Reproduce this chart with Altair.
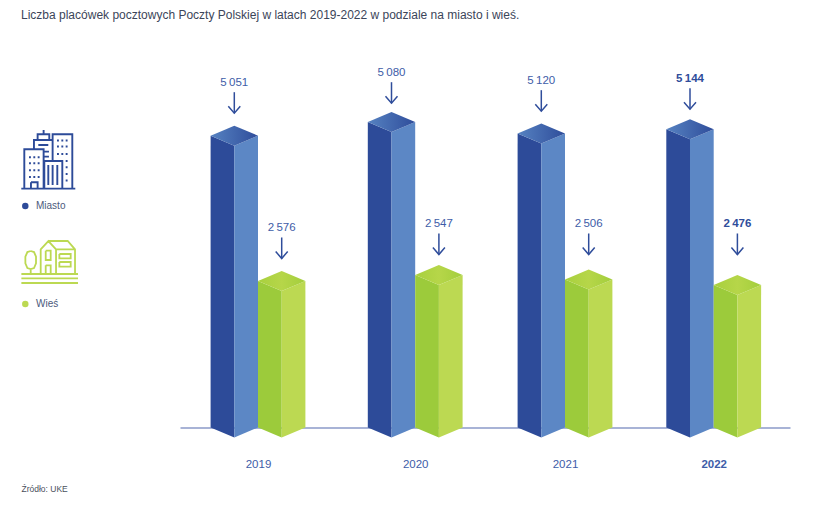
import altair as alt
import pandas as pd

# --- values ---
lata = [2019, 2020, 2021, 2022]
miasto = [5051, 5080, 5120, 5144]
wies = [2576, 2547, 2506, 2476]
# drawn bar heights (left edge) and label heights, in value units; the infographic's
# bars are not strictly proportional to their printed values
miasto_wys = [5046, 5283, 5084, 5157]
wies_wys = [2533, 2637, 2559, 2464]
miasto_etyk = [5962, 6135, 5997, 6031]
wies_etyk = [3450, 3519, 3519, 3519]

# --- layout constants ---
PLOT_W, PLOT_H, Y_MAX = 610, 347, 6000
U = Y_MAX / PLOT_H            # value units per pixel
SRODKI = [78, 235.2, 385, 533.7]
HW = 23.7
DV = 10 * U

TYTUL = "Liczba placówek pocztowych Poczty Polskiej w latach 2019-2022 w podziale na miasto i wieś."
ZRODLO = "Źródło: UKE"
GRANAT, NIEBIESKI = "#2d4b99", "#5c87c5"
ZIELONY, LIMONKA = "#9ccb3b", "#bcd952"
STRZALKA = "#2f4d9b"
TEKST = "#3e5da8"
FONT = "Liberation Sans"

xs = alt.Scale(domain=[0, PLOT_W], nice=False, zero=False)
ys = alt.Scale(domain=[0, Y_MAX], nice=False, zero=False)
xaxis = alt.Axis(
    title=None, values=SRODKI, grid=False, ticks=False, domain=True,
    domainColor="#8b9ac9", domainWidth=1.5, labelColor=TEKST, labelFont=FONT,
    labelFontSize=11.5, labelPadding=31, labelAngle=0, labelOverlap=False,
    labelExpr="datum.value<150?'2019':datum.value<300?'2020':datum.value<450?'2021':'2022'",
    labelFontWeight=alt.expr("datum.value>450?'bold':'normal'"),
)
X = alt.X("x:Q", scale=xs, axis=xaxis)
Y = alt.Y("y:Q", scale=ys, axis=None)

# --- bars as three faces ---
sciany, gora = [], []
for i, rok in enumerate(lata):
    for seria, cx, h, c_l, c_r in [
        ("m", SRODKI[i] - HW, miasto_wys[i], GRANAT, NIEBIESKI),
        ("w", SRODKI[i] + HW, wies_wys[i], ZIELONY, LIMONKA),
    ]:
        sciany += [
            dict(id=f"{rok}{seria}L", x=cx - HW, y=h, y2=0, kolor=c_l),
            dict(id=f"{rok}{seria}L", x=cx, y=h - DV, y2=-DV, kolor=c_l),
            dict(id=f"{rok}{seria}R", x=cx, y=h - DV, y2=-DV, kolor=c_r),
            dict(id=f"{rok}{seria}R", x=cx + HW, y=h, y2=0, kolor=c_r),
        ]
        gora += [
            dict(id=f"{rok}{seria}", seria=seria, x=cx - HW, y=h, y2=h),
            dict(id=f"{rok}{seria}", seria=seria, x=cx, y=h + DV, y2=h - DV),
            dict(id=f"{rok}{seria}", seria=seria, x=cx + HW, y=h, y2=h),
        ]
sciany = pd.DataFrame(sciany)
gora = pd.DataFrame(gora)

warstwa_sciany = alt.Chart(sciany).mark_area(orient="vertical", opacity=1).encode(
    x=X, y=Y, y2="y2:Q", detail="id:N", color=alt.Color("kolor:N", scale=None)
)


def gradient(stops):
    return alt.Gradient(
        gradient="linear", x1=0, x2=1, y1=0, y2=0,
        stops=[alt.GradientStop(color=c, offset=o) for o, c in stops],
    )


gora_m = alt.Chart(gora[gora.seria == "m"]).mark_area(
    orient="vertical", color=gradient([(0, "#5682c1"), (1, "#2f4d9b")])
).encode(x=X, y=Y, y2="y2:Q", detail="id:N")
gora_w = alt.Chart(gora[gora.seria == "w"]).mark_area(
    orient="vertical", color=gradient([(0, "#a8d03e"), (0.5, "#b6d649"), (1, "#a3ce3c")])
).encode(x=X, y=Y, y2="y2:Q", detail="id:N")

# --- labels and arrows ---
etykiety, strzalki, groty = [], [], []
for i, rok in enumerate(lata):
    for seria, cx, v, yl in [
        ("m", SRODKI[i] - HW, miasto[i], miasto_etyk[i]),
        ("w", SRODKI[i] + HW, wies[i], wies_etyk[i]),
    ]:
        etykiety.append(dict(x=cx, y=yl, t=f"{v // 1000}\u2009{v % 1000:03d}", bold=rok == 2022))
        top, tip = yl - 9.5 * U, yl - 30.5 * U
        strzalki.append(dict(id=f"{rok}{seria}", x=cx, y=top, y2=tip))
        groty += [
            dict(id=f"{rok}{seria}", k=0, x=cx - 6, y=tip + 7 * U),
            dict(id=f"{rok}{seria}", k=1, x=cx, y=tip),
            dict(id=f"{rok}{seria}", k=2, x=cx + 6, y=tip + 7 * U),
        ]
etykiety = pd.DataFrame(etykiety)

warstwa_trzon = alt.Chart(pd.DataFrame(strzalki)).mark_rule(
    color=STRZALKA, strokeWidth=1.5
).encode(x=X, y=Y, y2="y2:Q")
warstwa_grot = alt.Chart(pd.DataFrame(groty)).mark_line(
    color=STRZALKA, strokeWidth=1.5
).encode(x=X, y=Y, detail="id:N", order="k:Q")

etyk_n = alt.Chart(etykiety[~etykiety.bold]).mark_text(
    font=FONT, fontSize=11.5, color=TEKST, align="center", baseline="middle"
).encode(x=X, y=Y, text="t:N")
etyk_b = alt.Chart(etykiety[etykiety.bold]).mark_text(
    font=FONT, fontSize=11.5, fontWeight="bold", color="#2f4d9b", align="center", baseline="middle"
).encode(x=X, y=Y, text="t:N")


# --- icons (zoomed-in outline, normalised to a symbol path) ---
def sciezka(segmenty, cx, cy, half):
    out = []
    for seg in segmenty:
        pts = [f"{(px - cx) / half:.3f},{(py - cy) / half:.3f}" for px, py in seg]
        out.append("M" + "L".join(pts))
    return "".join(out)


def prost(x0, y0, x1, y1):
    return [(x0, y0), (x1, y0), (x1, y1), (x0, y1), (x0, y0)]


miasto_seg = [
    [(64, 236), (226, 236)],
    [(73, 236), (73, 118), (131, 118), (131, 236)],
    [(102, 118), (102, 90), (157, 90)],
    [(113, 90), (113, 73), (148, 73), (148, 90)],
    [(131, 60), (131, 73)],
    [(158, 150), (158, 73), (217, 73), (217, 236)],
    [(133, 236), (133, 153), (187, 153), (187, 236)],
    prost(93, 217, 113, 236),
    [(115, 105), (145, 105)],
    [(131, 125), (147, 125)],
    [(131, 140), (147, 140)],
]
for wx in (90, 103, 116):
    for wy in (142, 160, 181, 201):
        miasto_seg.append([(wx, wy - 3), (wx, wy + 3)])
for wx in (174, 187, 200):
    for wy in (92, 110, 132):
        miasto_seg.append([(wx, wy - 3), (wx, wy + 3)])
for wy in (153, 172, 192, 212):
    miasto_seg.append([(200, wy - 3), (200, wy + 3)])
for wx in (145, 158, 172):
    miasto_seg.append([(wx, 165), (wx, 225)])

dom_seg = [
    [(64, 492), (234, 492)], [(64, 505), (234, 505)], [(64, 519), (234, 519)],
    [(92, 477), (92, 492)],
    [(92, 423), (82, 426), (76, 440), (76, 460), (82, 474), (92, 477),
     (102, 474), (108, 460), (108, 440), (102, 426), (92, 423)],
    [(122, 492), (122, 418), (145, 393), (168, 418), (168, 492)],
    [(145, 393), (203, 393), (225, 418), (225, 492)],
    [(168, 418), (225, 418)],
    prost(137, 466, 152, 492), prost(137, 422, 152, 450),
    prost(178, 432, 212, 445), prost(178, 456, 212, 470),
]

ikona_m = alt.Chart(pd.DataFrame({"x": [-131.7], "y": [4638]})).mark_point(
    shape=sciezka(miasto_seg, 145, 148, 90), size=3600, filled=False,
    stroke=GRANAT, strokeWidth=1.9, opacity=1,
).encode(x=X, y=Y)
ikona_w = alt.Chart(pd.DataFrame({"x": [-130.3], "y": [2867]})).mark_point(
    shape=sciezka(dom_seg, 149, 455, 90), size=3600, filled=False,
    stroke=LIMONKA, strokeWidth=1.8, opacity=1,
).encode(x=X, y=Y)

# --- legend and source ---
legenda = pd.DataFrame({
    "x": [-154.7, -154.7], "xt": [-144, -144], "y": [3830, 2135],
    "t": ["Miasto", "Wieś"], "kolor": [GRANAT, LIMONKA],
})
kropki = alt.Chart(legenda).mark_point(filled=True, size=42, opacity=1).encode(
    x=X, y=Y, color=alt.Color("kolor:N", scale=None)
)
leg_tekst = alt.Chart(legenda).mark_text(
    font=FONT, fontSize=10, color="#4c5a7c", align="left", baseline="middle"
).encode(x=alt.X("xt:Q", scale=xs, axis=xaxis), y=Y, text="t:N")
zrodlo = alt.Chart(pd.DataFrame({"x": [-158.5], "y": [-1063], "t": [ZRODLO]})).mark_text(
    font=FONT, fontSize=8.5, color="#4a4f5c", align="left", baseline="middle"
).encode(x=X, y=Y, text="t:N")

chart = alt.layer(
    warstwa_sciany, gora_m, gora_w, warstwa_trzon, warstwa_grot, etyk_n, etyk_b,
    ikona_m, ikona_w, kropki, leg_tekst, zrodlo,
).properties(
    width=PLOT_W, height=PLOT_H,
    title=alt.TitleParams(
        TYTUL, anchor="start", frame="group", dx=-159, offset=45, font=FONT,
        fontSize=12, fontWeight="normal", color="#3b4559",
    ),
    autosize=alt.AutoSizeParams(type="none"),
    padding={"left": 172, "top": 72.5, "right": 19, "bottom": 69},
).configure_view(stroke=None)

chart.save("out.html", embed_options={"renderer": "svg", "actions": False})
